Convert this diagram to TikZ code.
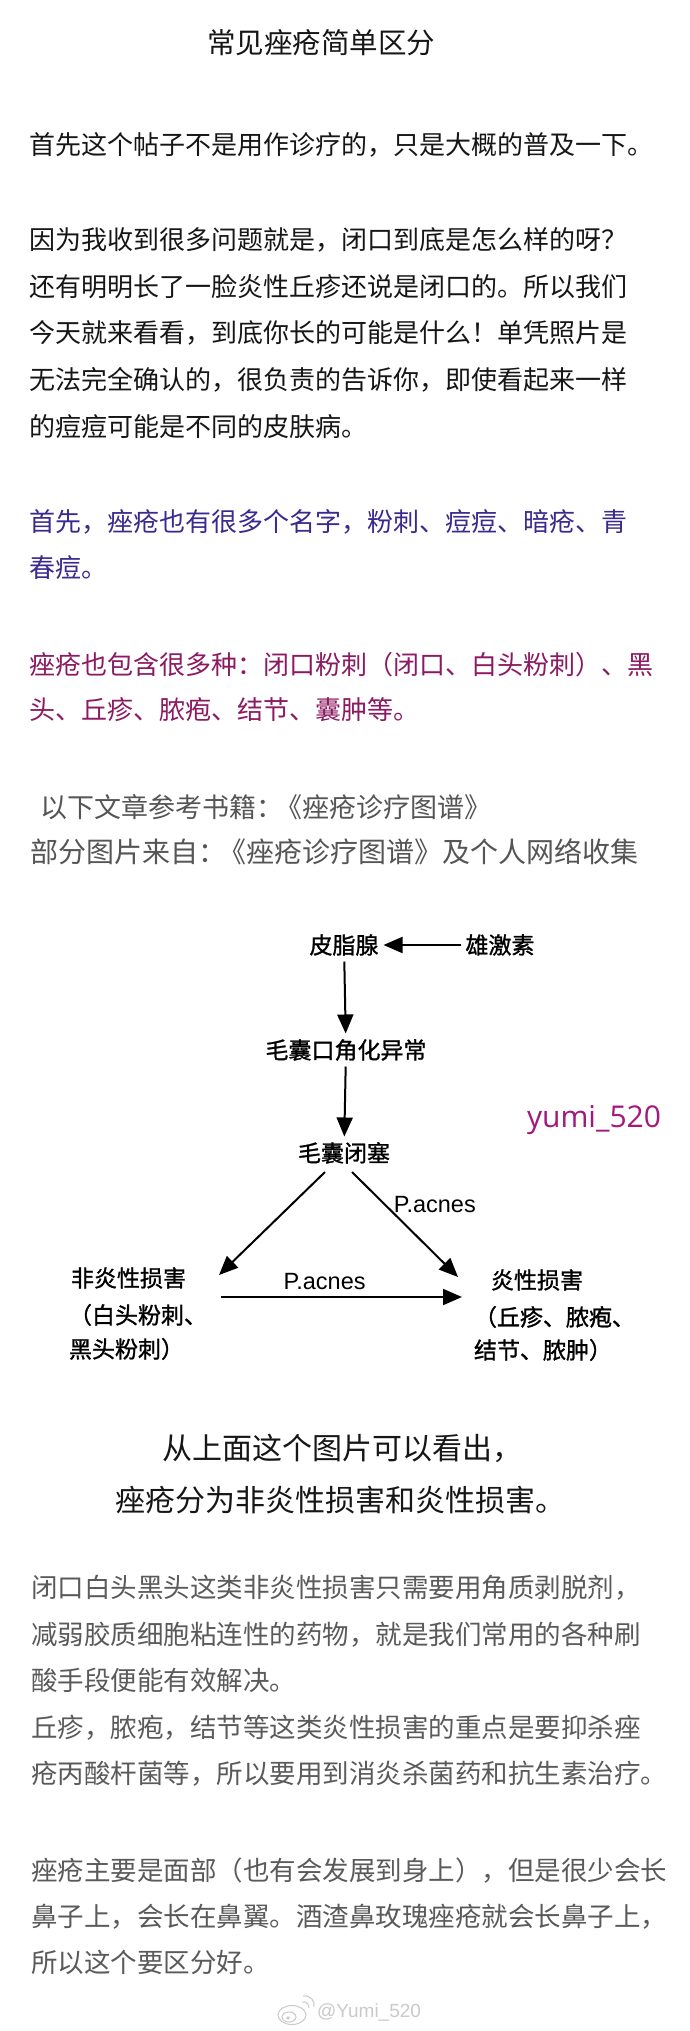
\documentclass[tikz,border=0pt]{standalone}
\usepackage{fontspec}
\setmainfont{Noto Sans CJK SC}
\newfontfamily\dgfont{Noto Sans CJK SC}[FakeBold=1.2]
\newfontfamily\arialfont{Liberation Sans}
\newfontfamily\segoefont{Open Sans}
\usepackage{tikz}
\usetikzlibrary{arrows.meta}
\definecolor{ink}{HTML}{161616}
\definecolor{indigo}{HTML}{3A2A8E}
\definecolor{plum}{HTML}{8C1A62}
\definecolor{ash}{HTML}{555555}
\definecolor{slate}{HTML}{5A5A5A}
\definecolor{rose}{HTML}{A2187C}
\definecolor{mist}{HTML}{CACACA}
\tikzset{>={Triangle[length=19pt, width=16pt]}}
\tikzset{txtline/.style={anchor=west, inner sep=0pt, text=ink,
    font=\fontsize{26}{30}\selectfont, text height=22.9pt, text depth=3.1pt}}
\tikzset{ttl/.style={txtline, font=\fontsize{28.5}{32}\selectfont,
    text height=25.1pt, text depth=3.4pt}}
\tikzset{srca/.style={txtline, text=ash, font=\fontsize{27}{31}\selectfont,
    text height=23.8pt, text depth=3.2pt}}
\tikzset{srcb/.style={txtline, text=ash, font=\fontsize{28}{32}\selectfont,
    text height=24.6pt, text depth=3.4pt}}
\tikzset{big/.style={txtline, font=\fontsize{30}{34}\selectfont,
    text height=26.4pt, text depth=3.6pt}}
\tikzset{note/.style={txtline, text=slate, font=\fontsize{26.5}{30}\selectfont,
    text height=23.3pt, text depth=3.2pt}}
\tikzset{dia/.style={inner sep=0pt, outer sep=5pt, text=black,
    font=\dgfont\fontsize{23}{26}\selectfont, text height=20.2pt, text depth=2.8pt}}
\tikzset{pac/.style={inner sep=0pt, text=black, line width=0pt,
    font=\arialfont\fontsize{23.5}{26}\selectfont}}

\begin{document}
\begin{tikzpicture}[x=1pt, y=-1pt]
  \fill[white] (0,0) rectangle (690,2031);
  \useasboundingbox (0,0) rectangle (690,2031);
  \node[ttl] (t) at (207,43) {常见痤疮简单区分};
  %%%%%
  \node[txtline] (p1) at (29,145) {首先这个帖子不是用作诊疗的，只是大概的普及一下。};
  \node[txtline] (p2a) at (29,240) {因为我收到很多问题就是，闭口到底是怎么样的呀？};
  \node[txtline] (p2b) at (29,287) {还有明明长了一脸炎性丘疹还说是闭口的。所以我们};
  \node[txtline] (p2c) at (29,333) {今天就来看看，到底你长的可能是什么！单凭照片是};
  \node[txtline] (p2d) at (29,380) {无法完全确认的，很负责的告诉你，即使看起来一样};
  \node[txtline] (p2e) at (29,427) {的痘痘可能是不同的皮肤病。};
  %%%%%
  \node[txtline, text=indigo] (q1) at (29,522) {首先，痤疮也有很多个名字，粉刺、痘痘、暗疮、青};
  \node[txtline, text=indigo] (q2) at (29,568) {春痘。};
  \node[txtline, text=plum] (r1) at (29,665) {痤疮也包含很多种：闭口粉刺（闭口、白头粉刺）、黑};
  \node[txtline, text=plum] (r2) at (29,710) {头、丘疹、脓疱、结节、囊肿等。};
  \node[srca] (s1) at (40,807) {以下文章参考书籍：\kern-8pt《痤疮诊疗图谱》};
  \node[srcb] (s2) at (30,852) {部分图片来自：\kern-8pt《痤疮诊疗图谱》及个人网络收集};

  \begin{scope}[shift={(0,900)}, ->, line width=2pt]
      \node[dia] (pz) at (344,45) {皮脂腺};
      \node[dia] (xj) at (500,45) {雄激素};
      \node[dia] (mk) at (346,150) {毛囊口角化异常};
      \node[dia] (mb) at (344,253) {毛囊闭塞};
      \path (xj) edge (pz);
      \path (pz) edge (mk);
      \path (mk) edge (mb);
      %% lesions
      \node[dia, anchor=west] (fy) at (66,378) {非炎性损害};
      \node[dia, anchor=west] (fy2) at (64,415) {（白头粉刺、};
      \node[dia, anchor=west] (fy3) at (64,449) {黑头粉刺）};
      \node[dia, anchor=west] (yx) at (486,380) {炎性损害};
      \node[dia, anchor=west] (yx2) at (469,417) {（丘疹、脓疱、};
      \node[dia, anchor=west] (yx3) at (469,450) {结节、脓肿）};
      \path ([xshift=-19pt, yshift=-2.5pt]mb.south) edge
        ([xshift=28pt, yshift=3pt]fy.east);
      \path ([xshift=8pt, yshift=-2.5pt]mb.south) edge
        node[pac, pos=.31, anchor=west, xshift=9pt] {P.acnes}
        ([xshift=-28pt, yshift=3pt]yx.west);
      \path ([xshift=30pt, yshift=-19pt]fy.east) edge
        node[pac, pos=.43, anchor=south, yshift=7pt] {P.acnes}
        ([xshift=-24pt, yshift=-17pt]yx.west);
      %% signature
      \node[anchor=base, inner sep=0pt, text=rose,
        font=\segoefont\fontsize{30}{34}\selectfont] (ym) at (594,227) {yumi\_520};
  \end{scope}

  \node[big] (u1) at (162,1448) {从上面这个图片可以看出，};
  \node[big] (u2) at (115,1500) {痤疮分为非炎性损害和炎性损害。};
  %%%%%
  \node[note] (v1) at (31,1587) {闭口白头黑头这类非炎性损害只需要用角质剥脱剂，};
  \node[note] (v2) at (31,1634) {减弱胶质细胞粘连性的药物，就是我们常用的各种刷};
  \node[note] (v3) at (31,1680) {酸手段便能有效解决。};
  \node[note] (v4) at (31,1727) {丘疹，脓疱，结节等这类炎性损害的重点是要抑杀痤};
  \node[note] (v5) at (31,1773) {疮丙酸杆菌等，所以要用到消炎杀菌药和抗生素治疗。};
  \node[note] (w1) at (31,1870) {痤疮主要是面部（也有会发展到身上），但是很少会长};
  \node[note] (w2) at (31,1916) {鼻子上，会长在鼻翼。酒渣鼻玫瑰痤疮就会长鼻子上，};
  \node[note] (w3) at (31,1962) {所以这个要区分好。};
  %% watermark
  \draw[mist, line width=1pt] (292,2015) ellipse [x radius=14, y radius=9.5];
  \draw[mist, line width=1pt] (289,2017) ellipse [x radius=7, y radius=5];
  \fill[mist] (288,2018) circle (1.8);
  \draw[mist, line width=1pt] (302,2002) .. controls (306,2001) and (309,2004) .. (309,2008);
  \draw[mist, line width=1pt] (303,1996) .. controls (311,1995) and (315,2001) .. (314,2007);
  \node[anchor=west, inner sep=0pt, text=mist,
    font=\arialfont\fontsize{19}{22}\selectfont] (wm) at (317,2012) {@Yumi\_520};
\end{tikzpicture}
\end{document}
